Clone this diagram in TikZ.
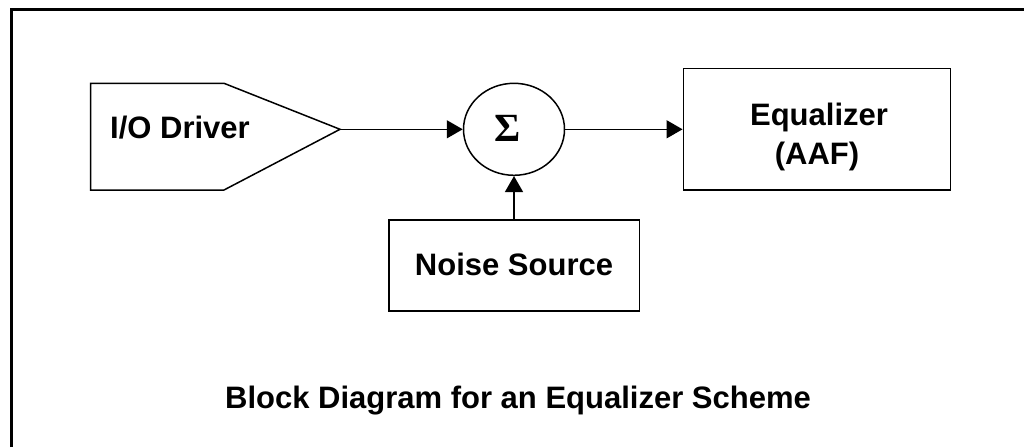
\documentclass[tikz,border=0pt]{standalone}
\usepackage{fontspec}
\setmainfont{Liberation Sans}
\newfontfamily\sigmafont{Liberation Serif}
\usetikzlibrary{shapes.geometric,arrows.meta}
\begin{document}
\begin{tikzpicture}[x=1pt,y=-1pt,
  blockshape/.style={draw,line width=1.5pt,inner sep=0pt},
  lbl/.style={font=\fontsize{31}{39}\selectfont\bfseries,inner sep=0pt,anchor=base},
  arr/.style={line width=1.5pt,-{Triangle[length=16pt,width=18pt]}}]
\useasboundingbox (0,0) rectangle (1024,447);
% frame
\draw[line width=2.7pt] (11.3,447) -- (11.3,9.7) -- (1024,9.7);
% I/O driver
\draw[line width=1.5pt] (90.7,83.3) -- (224,83.3) -- (340,129.3) -- (224,190) -- (90.7,190) -- cycle;
\coordinate (iotip) at (340,129.3);
\node[lbl] (io) at (180,138) {I/O Driver};
% summer
\node[blockshape,ellipse,minimum width=101pt,minimum height=92pt] (sum) at (514,129.3) {};
\node[inner sep=0pt,anchor=base,font=\sigmafont\bfseries\fontsize{40}{44}\selectfont] (sig) at (508,141.7) {Σ};
% equalizer
\node[blockshape,minimum width=267.4pt,minimum height=121.3pt] (eq) at (817,129.3) {};
\node[lbl] (eqa) at (819,125) {Equalizer};
\node[lbl] (eqb) at (817,164) {(AAF)};
% noise source
\node[blockshape,minimum width=250.5pt,minimum height=91pt] (noise) at (514,265.5) {};
\node[lbl] (noiset) at (514,275) {Noise Source};
% connectors
\draw[arr] (iotip) -- (sum);
\draw[arr] (sum) -- (eq);
\draw[arr] (noise) -- (sum);
% caption
\node[lbl] (cap) at (518,408.3) {Block Diagram for an Equalizer Scheme};
\end{tikzpicture}
\end{document}
